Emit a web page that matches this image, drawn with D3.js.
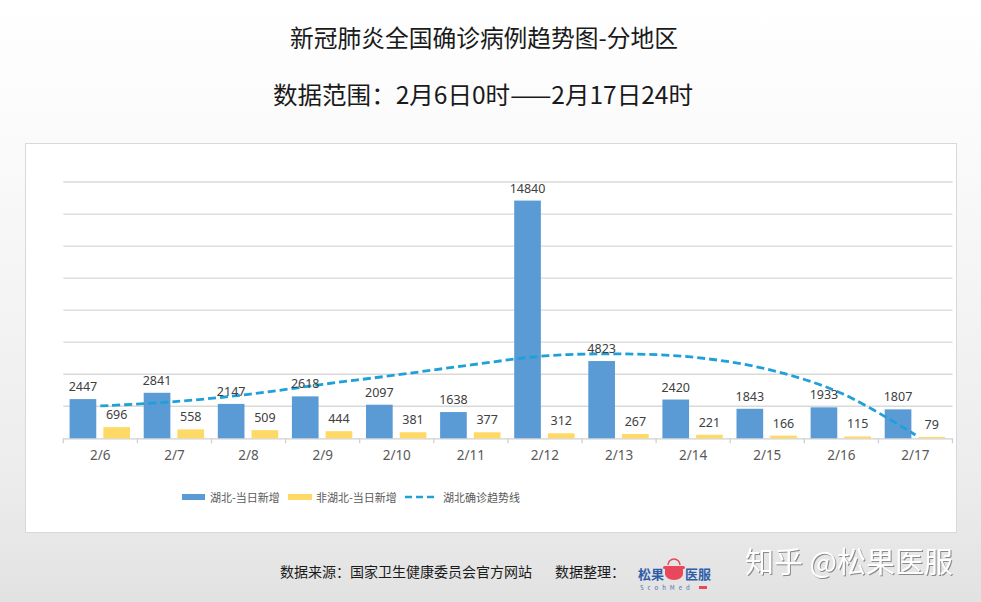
<!DOCTYPE html>
<html><head><meta charset="utf-8">
<script src="https://cdn.jsdelivr.net/npm/d3@7"></script>
<style>
html,body{margin:0;padding:0;}
body{width:981px;height:602px;overflow:hidden;background:linear-gradient(#ffffff 0%,#fafafa 25%,#ececec 80%,#e2e2e2 100%);}
svg{display:block;font-family:"Noto Sans CJK SC","Noto Sans",sans-serif;}
</style></head>
<body>
<svg id="c" width="981" height="602"></svg>
<script>
const categories = ["2/6","2/7","2/8","2/9","2/10","2/11","2/12","2/13","2/14","2/15","2/16","2/17"];
const hubeiNew = [2447,2841,2147,2618,2097,1638,14840,4823,2420,1843,1933,1807];
const otherNew = [696,558,509,444,381,377,312,267,221,166,115,79];
const hubeiTrend = [2019,2288,2744,3369,3956,4581,5144,5269,5063,4313,2813,206];
const yTicks = [0,2000,4000,6000,8000,10000,12000,14000,16000];
const seriesNames = ["湖北-当日新增","非湖北-当日新增","湖北确诊趋势线"];
const colors = {hubei:"#5b9bd5", other:"#ffd966", trend:"#1fa0d8"};

(function(){
const svg = d3.select("#c");

// titles
svg.append("text").attr("x",484).attr("y",47).attr("text-anchor","middle")
  .attr("font-size",24).attr("fill","#1a1a1a").attr("textLength",388).attr("lengthAdjust","spacingAndGlyphs")
  .text("新冠肺炎全国确诊病例趋势图-分地区");
svg.append("text").attr("x",483).attr("y",104).attr("text-anchor","middle")
  .attr("font-size",24).attr("fill","#1a1a1a").attr("textLength",420).attr("lengthAdjust","spacingAndGlyphs")
  .text("数据范围：2月6日0时——2月17日24时");

// chart box
svg.append("rect").attr("x",25.5).attr("y",143.5).attr("width",931).attr("height",389)
  .attr("fill","#ffffff").attr("stroke","#d9d9d9").attr("stroke-width",1);

const pL = 63.3, pR = 952.5, pT = 182, pB = 438.3;
const x = d3.scaleBand().domain(categories).range([pL,pR]).paddingInner(0).paddingOuter(0);
const y = d3.scaleLinear().domain([0,16000]).range([pB,pT]);
const bw = x.bandwidth();

// gridlines
svg.append("g").selectAll("line").data(yTicks.slice(1)).join("line")
  .attr("x1",pL).attr("x2",pR).attr("y1",d=>y(d)).attr("y2",d=>y(d))
  .attr("stroke","#d9d9d9").attr("stroke-width",1.3);

// axis
const xAxis = d3.axisBottom(x).tickSize(0).tickPadding(12);
const gx = svg.append("g").attr("transform",`translate(0,${pB})`).call(xAxis);
gx.select(".domain").attr("stroke","#d0d0d0").attr("stroke-width",1.3);
gx.selectAll("text").attr("font-size",13.5).attr("fill","#595959").attr("font-family","'Noto Sans','Open Sans',sans-serif");
gx.selectAll(".btick").data(categories.map((c,i)=>i).concat([categories.length])).join("line")
  .attr("class","btick")
  .attr("x1",i=>pL+i*bw).attr("x2",i=>pL+i*bw).attr("y1",0).attr("y2",5)
  .attr("stroke","#d0d0d0").attr("stroke-width",1.3);

const barW = bw*0.36;
const off1 = bw*0.085, off2 = off1 + barW + bw*0.095;

const bars = svg.append("g");
bars.selectAll(".b1").data(hubeiNew).join("rect").attr("class","b1")
  .attr("x",(d,i)=>x(categories[i])+off1).attr("width",barW)
  .attr("y",d=>y(d)).attr("height",d=>pB-y(d)).attr("fill",colors.hubei);
bars.selectAll(".b2").data(otherNew).join("rect").attr("class","b2")
  .attr("x",(d,i)=>x(categories[i])+off2).attr("width",barW)
  .attr("y",d=>y(d)).attr("height",d=>pB-y(d)).attr("fill",colors.other);

// trend line
const line = d3.line().x((d,i)=>x(categories[i])+bw/2).y(d=>y(d)).curve(d3.curveCatmullRom.alpha(0.5));
svg.append("path").datum(hubeiTrend).attr("d",line).attr("fill","none")
  .attr("stroke",colors.trend).attr("stroke-width",2.8).attr("stroke-dasharray","8,4");

// labels
const lab = svg.append("g").attr("font-size",12.5).attr("fill","#404040").attr("text-anchor","middle")
  .attr("font-family","'Noto Sans','Open Sans',sans-serif");
lab.selectAll(".l1").data(hubeiNew).join("text").attr("class","l1")
  .attr("x",(d,i)=>x(categories[i])+off1+barW/2).attr("y",d=>y(d)-8).text(d=>d);
lab.selectAll(".l2").data(otherNew).join("text").attr("class","l2")
  .attr("x",(d,i)=>x(categories[i])+off2+barW/2).attr("y",d=>y(d)-8).text(d=>d);

// legend
const lg = svg.append("g").attr("font-size",11).attr("fill","#595959");
lg.append("rect").attr("x",182).attr("y",494).attr("width",23).attr("height",6).attr("fill",colors.hubei);
lg.append("text").attr("x",210).attr("y",501.5).text(seriesNames[0]);
lg.append("rect").attr("x",288).attr("y",494).attr("width",24).attr("height",6).attr("fill",colors.other);
lg.append("text").attr("x",316).attr("y",501.5).text(seriesNames[1]);
lg.append("line").attr("x1",405).attr("x2",437).attr("y1",497).attr("y2",497)
  .attr("stroke",colors.trend).attr("stroke-width",2.6).attr("stroke-dasharray","7,4");
lg.append("text").attr("x",443).attr("y",501.5).text(seriesNames[2]);

// footer
const ft = svg.append("g").attr("font-size",14).attr("fill","#1a1a1a");
ft.append("text").attr("x",280).attr("y",577).text("数据来源：国家卫生健康委员会官方网站");
ft.append("text").attr("x",555).attr("y",577).text("数据整理：");

// logo
const logo = svg.append("g");
logo.append("text").attr("x",638).attr("y",579).attr("font-size",13).attr("font-weight","bold").attr("fill","#2f5ea8").text("松果");
logo.append("text").attr("x",685).attr("y",579).attr("font-size",13).attr("font-weight","bold").attr("fill","#2f5ea8").text("医服");
logo.append("path").attr("d","M665,566 h18 v8 a9,6 0 0 1 -18,0 z").attr("fill","#e8475c");
logo.append("rect").attr("x",663).attr("y",566).attr("width",22).attr("height",3).attr("rx",1.5).attr("fill","#e8475c");
logo.append("path").attr("d","M668,565 a6,6 0 0 1 12,0").attr("fill","none").attr("stroke","#e8475c").attr("stroke-width",1.5);
logo.append("text").attr("x",640).attr("y",590).attr("font-size",6).attr("letter-spacing",4).attr("fill","#4a6fb0").text("ScohMed");
logo.append("rect").attr("x",699).attr("y",586).attr("width",8).attr("height",3).attr("fill","#e8475c");

// watermark
svg.append("text").attr("x",745).attr("y",573).attr("font-size",29).attr("fill","#ffffff")
  .style("filter","drop-shadow(1.5px 1.5px 0.5px #8a8a8a)").text("知乎 @松果医服");
})();
</script>
</body></html>
